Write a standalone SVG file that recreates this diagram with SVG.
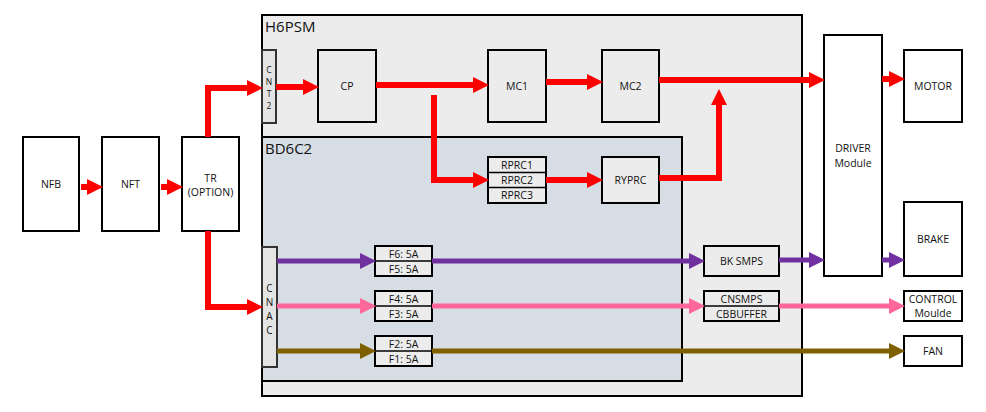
<svg xmlns="http://www.w3.org/2000/svg" width="986" height="412" viewBox="0 0 986 412">
<style>
  text { font-family: "Open Sans", "Liberation Sans", sans-serif; font-size: 10.5px; fill: #111; text-anchor: middle; dominant-baseline: central; }
  .title { font-size: 15px; text-anchor: start; dominant-baseline: alphabetic; }
  .box { stroke: #000; stroke-width: 2; }
  .w { fill: #ffffff; }
  .g { fill: #ececec; }
  .conn { fill: #e4e4e4; stroke: #333; stroke-width: 2; }
  .sm { font-size: 10px; }
  .xs { font-size: 8.5px; }
  .red { stroke: #ff0000; stroke-width: 6; fill: none; }
  .pur { stroke: #7030a0; stroke-width: 5; fill: none; }
  .pink { stroke: #ff6699; stroke-width: 5; fill: none; }
  .olive { stroke: #7f6000; stroke-width: 5; fill: none; }
</style>
<defs>
  <marker id="aRed" markerUnits="userSpaceOnUse" markerWidth="16" markerHeight="16" refX="0" refY="8" orient="auto"><path d="M0,0 L16,8 L0,16 z" fill="#ff0000"/></marker>
  <marker id="aPur" markerUnits="userSpaceOnUse" markerWidth="16" markerHeight="16" refX="0" refY="8" orient="auto"><path d="M0,0 L16,8 L0,16 z" fill="#7030a0"/></marker>
  <marker id="aPink" markerUnits="userSpaceOnUse" markerWidth="16" markerHeight="16" refX="0" refY="8" orient="auto"><path d="M0,0 L16,8 L0,16 z" fill="#ff6699"/></marker>
  <marker id="aOl" markerUnits="userSpaceOnUse" markerWidth="16" markerHeight="16" refX="0" refY="8" orient="auto"><path d="M0,0 L16,8 L0,16 z" fill="#7f6000"/></marker>
</defs>

<g id="H6PSM">
  <rect x="262" y="15" width="540" height="381" fill="#ececec" stroke="#000" stroke-width="2"/>
  <text class="title" x="265" y="32">H6PSM</text>
</g>
<g id="BD6C2">
  <rect x="262" y="137" width="420" height="244" fill="#d6dde5" stroke="#000" stroke-width="2"/>
  <text class="title" x="265" y="154">BD6C2</text>
</g>

<g id="NFB"><rect class="box w" x="23" y="137" width="56" height="94"/><text x="51" y="184">NFB</text></g>
<g id="NFT"><rect class="box w" x="102" y="137" width="57" height="94"/><text x="130.5" y="184">NFT</text></g>
<g id="TR"><rect class="box w" x="182" y="137" width="57" height="94"/><text x="210.5" y="178">TR</text><text x="210.5" y="192">(OPTION)</text></g>

<g id="CNT2"><rect class="conn" x="262" y="50" width="14" height="73"/>
  <text class="xs" x="269" y="69">C</text><text class="xs" x="269" y="81">N</text><text class="xs" x="269" y="93">T</text><text class="xs" x="269" y="105">2</text></g>
<g id="CNAC"><rect class="conn" x="262" y="247" width="15" height="120"/>
  <text class="sm" x="269.5" y="288">C</text><text class="sm" x="269.5" y="302">N</text><text class="sm" x="269.5" y="316">A</text><text class="sm" x="269.5" y="330">C</text></g>

<g id="CP"><rect class="box g" x="318" y="50" width="58" height="72"/><text x="347" y="86">CP</text></g>
<g id="MC1"><rect class="box g" x="488" y="50" width="58" height="72"/><text x="517" y="86">MC1</text></g>
<g id="MC2"><rect class="box g" x="602" y="50" width="57" height="72"/><text x="630.5" y="86">MC2</text></g>
<g id="RPRC">
  <rect class="box g" x="488" y="157" width="58" height="46"/>
  <line x1="488" y1="172.5" x2="546" y2="172.5" stroke="#000" stroke-width="1.5"/>
  <line x1="488" y1="187.5" x2="546" y2="187.5" stroke="#000" stroke-width="1.5"/>
  <text x="517" y="165">RPRC1</text><text x="517" y="180">RPRC2</text><text x="517" y="195">RPRC3</text>
</g>
<g id="RYPRC"><rect class="box g" x="602" y="157" width="57" height="46"/><text x="630.5" y="180">RYPRC</text></g>

<g id="F65"><rect class="box g" x="375" y="246" width="57" height="30"/><line x1="375" y1="261" x2="432" y2="261" stroke="#000" stroke-width="1.5"/>
  <text x="403.5" y="254">F6: 5A</text><text x="403.5" y="269">F5: 5A</text></g>
<g id="F43"><rect class="box g" x="375" y="291" width="57" height="30"/><line x1="375" y1="306" x2="432" y2="306" stroke="#000" stroke-width="1.5"/>
  <text x="403.5" y="299">F4: 5A</text><text x="403.5" y="314">F3: 5A</text></g>
<g id="F21"><rect class="box g" x="375" y="336" width="57" height="30"/><line x1="375" y1="351" x2="432" y2="351" stroke="#000" stroke-width="1.5"/>
  <text x="403.5" y="344">F2: 5A</text><text x="403.5" y="359">F1: 5A</text></g>

<g id="BKSMPS"><rect class="box g" x="704" y="246" width="75" height="30"/><text x="741.5" y="261">BK SMPS</text></g>
<g id="CNSMPS"><rect class="box g" x="704" y="291" width="75" height="30"/><line x1="704" y1="306" x2="779" y2="306" stroke="#000" stroke-width="1.5"/>
  <text x="741.5" y="299">CNSMPS</text><text x="741.5" y="314">CBBUFFER</text></g>

<g id="DRIVER"><rect class="box w" x="824" y="35" width="58" height="241"/><text x="853" y="148">DRIVER</text><text x="853" y="163">Module</text></g>
<g id="MOTOR"><rect class="box w" x="904" y="50" width="58" height="72"/><text x="933" y="86">MOTOR</text></g>
<g id="BRAKE"><rect class="box w" x="904" y="202" width="58" height="74"/><text x="933" y="239">BRAKE</text></g>
<g id="CONTROL"><rect class="box w" x="904" y="291" width="58" height="30"/><text x="933" y="299">CONTROL</text><text x="933" y="313">Moulde</text></g>
<g id="FAN"><rect class="box w" x="904" y="336" width="58" height="30"/><text x="933" y="351">FAN</text></g>

<g id="connectors">
  <path class="red" d="M81,187 H87" marker-end="url(#aRed)"/>
  <path class="red" d="M161,187 H167" marker-end="url(#aRed)"/>
  <path class="red" d="M208,137 V88 H247" marker-end="url(#aRed)"/>
  <path class="red" d="M208,231 V307 H247" marker-end="url(#aRed)"/>
  <path class="red" d="M276,87 H303" marker-end="url(#aRed)"/>
  <path class="red" d="M376,85 H473" marker-end="url(#aRed)"/>
  <path class="red" d="M434,95 V180 H473" marker-end="url(#aRed)"/>
  <path class="red" d="M546,82 H587" marker-end="url(#aRed)"/>
  <path class="red" d="M546,180 H587" marker-end="url(#aRed)"/>
  <path class="red" d="M659,80 H809" marker-end="url(#aRed)"/>
  <path class="red" d="M659,178 H719 V105" marker-end="url(#aRed)"/>
  <path class="red" d="M882,79 H889" marker-end="url(#aRed)"/>

  <path class="pur" d="M277,261 H360" marker-end="url(#aPur)"/>
  <path class="pur" d="M432,261 H689" marker-end="url(#aPur)"/>
  <path class="pur" d="M779,260 H809" marker-end="url(#aPur)"/>
  <path class="pur" d="M882,260 H889" marker-end="url(#aPur)"/>

  <path class="pink" d="M277,306 H360" marker-end="url(#aPink)"/>
  <path class="pink" d="M432,306 H689" marker-end="url(#aPink)"/>
  <path class="pink" d="M779,306 H889" marker-end="url(#aPink)"/>

  <path class="olive" d="M277,351 H360" marker-end="url(#aOl)"/>
  <path class="olive" d="M432,351 H889" marker-end="url(#aOl)"/>
</g>
</svg>
